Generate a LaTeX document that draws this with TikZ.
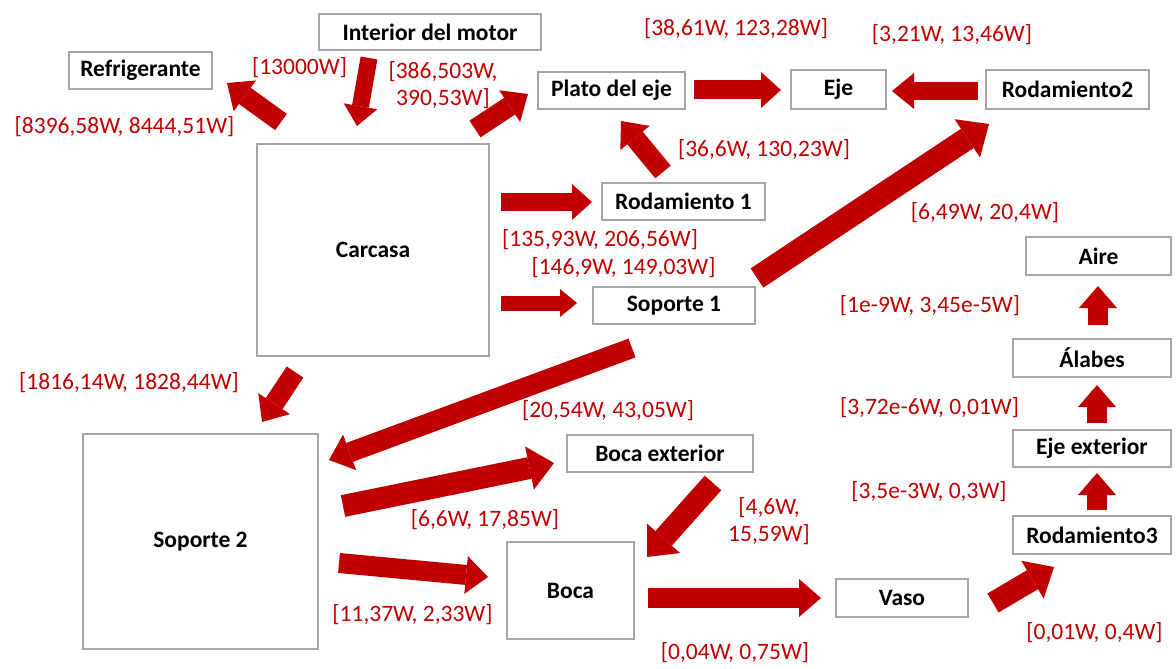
\documentclass[tikz,border=0pt]{standalone}
\usepackage{fontspec}
\setmainfont{Carlito}
\usetikzlibrary{arrows.meta}
\definecolor{flowred}{HTML}{C00000}
\definecolor{boxgray}{HTML}{A5A5A5}
\begin{document}
\begin{tikzpicture}[x=1pt,y=-1pt,
  part/.style={draw=boxgray,line width=2.5pt,fill=white,inner sep=0pt,
    font=\fontsize{23.5}{27}\selectfont\bfseries},
  heat/.style={text=flowred,inner sep=0pt,align=center,
    font=\fontsize{23.5}{27}\selectfont},
  flow/.style n args={3}{draw=flowred,line width=#1,
    -{Triangle[length=#2,width=#3,line width=0pt]}},
  flowstd/.style={flow={20pt}{22pt}{38pt}},
  flowsmall/.style={flow={15pt}{17pt}{28pt}},
  flowwide/.style={flow={22pt}{25pt}{44pt}}]
\useasboundingbox (0,0) rectangle (1176,669);

% components
\node[part,minimum width=222pt,minimum height=36pt] (intm)   at (430,32)     {Interior del motor};
\node[part,minimum width=143pt,minimum height=37pt] (refr)   at (140.5,70.5) {Refrigerante};
\node[part,minimum width=147pt,minimum height=37pt] (plato)  at (611.5,90.5) {Plato del eje};
\node[part,minimum width=95pt, minimum height=39pt] (eje)    at (838.5,89.5) {Eje};
\node[part,minimum width=163pt,minimum height=39pt] (rod2)   at (1067.5,89.5){Rodamiento2};
\node[part,minimum width=232pt,minimum height=212pt](carc)   at (373,250)    {Carcasa};
\node[part,minimum width=163pt,minimum height=37pt] (rod1)   at (683.5,201.5){Rodamiento 1};
\node[part,minimum width=162pt,minimum height=37pt] (sop1)   at (674,305.5)  {Soporte 1};
\node[part,minimum width=145pt,minimum height=38pt] (aire)   at (1098.5,256) {Aire};
\node[part,minimum width=158pt,minimum height=38pt] (alab)   at (1092,358)   {Álabes};
\node[part,minimum width=158pt,minimum height=37pt] (ejeext) at (1092,448.5) {Eje exterior};
\node[part,minimum width=158pt,minimum height=38pt] (rod3)   at (1092,535)   {Rodamiento3};
\node[part,minimum width=235pt,minimum height=215pt](sop2)   at (200.5,541.5){Soporte 2};
\node[part,minimum width=186pt,minimum height=37pt] (bocaext)at (660,453.5)   {Boca exterior};
\node[part,minimum width=127pt,minimum height=97pt] (boca)   at (570.5,590.5){Boca};
\node[part,minimum width=132pt,minimum height=38pt] (vaso)   at (902,598)    {Vaso};

% arrow ends
\coordinate (a1s) at (281,122);  \coordinate (a1e) at (227,83);
\coordinate (a2s) at (369,58);   \coordinate (a2e) at (357,126);
\coordinate (a3s) at (475,129);  \coordinate (a3e) at (528,94);
\coordinate (a4s) at (694,90);   \coordinate (a4e) at (781,90);
\coordinate (a5s) at (978,91);   \coordinate (a5e) at (892,91);
\coordinate (a6s) at (663,172);  \coordinate (a6e) at (621,121);
\coordinate (a7s) at (501,202);  \coordinate (a7e) at (592,202);
\coordinate (a8s) at (501,303);  \coordinate (a8e) at (577,303);
\coordinate (a9s) at (757,278);  \coordinate (a9e) at (989,124);
\coordinate (a10s) at (632,348); \coordinate (a10e) at (329,460);
\coordinate (a11s) at (295,372); \coordinate (a11e) at (262,422);
\coordinate (a12s) at (343,506); \coordinate (a12e) at (554,463);
\coordinate (a13s) at (339,563); \coordinate (a13e) at (488,577);
\coordinate (a14s) at (713,483); \coordinate (a14e) at (647,557);
\coordinate (a15s) at (648,598); \coordinate (a15e) at (821,598);
\coordinate (a16s) at (993,603); \coordinate (a16e) at (1054,567);
\coordinate (a17s) at (1097,510);\coordinate (a17e) at (1097,473);
\coordinate (a18s) at (1097,423);\coordinate (a18e) at (1097,385);
\coordinate (a19s) at (1098,325);\coordinate (a19e) at (1098,286);

% heat flows
\draw[flowstd]   (a1s) -- (a1e);
\draw[flow={17pt}{20pt}{34pt}] (a2s) -- (a2e);
\draw[flowstd]   (a3s) -- (a3e);
\draw[flow={19pt}{20pt}{36pt}] (a4s) -- (a4e);
\draw[flow={18pt}{22pt}{36pt}] (a5s) -- (a5e);
\draw[flowstd]   (a6s) -- (a6e);
\draw[flow={18pt}{20pt}{36pt}] (a7s) -- (a7e);
\draw[flowsmall] (a8s) -- (a8e);
\draw[flow={23pt}{26pt}{46pt}] (a9s) -- (a9e);
\draw[flowstd]   (a10s) -- (a10e);
\draw[flowstd]   (a11s) -- (a11e);
\draw[flowwide]  (a12s) -- (a12e);
\draw[flowstd]   (a13s) -- (a13e);
\draw[flowwide]  (a14s) -- (a14e);
\draw[flowstd]   (a15s) -- (a15e);
\draw[flowwide]  (a16s) -- (a16e);
\draw[flowstd]   (a17s) -- (a17e);
\draw[flowstd]   (a18s) -- (a18e);
\draw[flowstd]   (a19s) -- (a19e);

% flow values
\node[heat] (q1)  at (299.5,68)  {[13000W]};
\node[heat] (q2)  at (443,85)    {[386,503W,\\390,53W]};
\node[heat] (q3)  at (124.5,127) {[8396,58W, 8444,51W]};
\node[heat] (q4)  at (736,29)    {[38,61W, 123,28W]};
\node[heat] (q5)  at (952,35)    {[3,21W, 13,46W]};
\node[heat] (q6)  at (764,150)   {[36,6W, 130,23W]};
\node[heat] (q7)  at (985,213)   {[6,49W, 20,4W]};
\node[heat] (q8)  at (600,240)   {[135,93W, 206,56W]};
\node[heat] (q9)  at (623.5,268) {[146,9W, 149,03W]};
\node[heat] (q10) at (129,383)   {[1816,14W, 1828,44W]};
\node[heat] (q11) at (608,411)   {[20,54W, 43,05W]};
\node[heat] (q12) at (930,306)   {[1e-9W, 3,45e-5W]};
\node[heat] (q13) at (929.5,408) {[3,72e-6W, 0,01W]};
\node[heat] (q14) at (929,492)   {[3,5e-3W, 0,3W]};
\node[heat] (q15) at (769,521)   {[4,6W,\\15,59W]};
\node[heat] (q16) at (485,520)   {[6,6W, 17,85W]};
\node[heat] (q17) at (412.5,615) {[11,37W, 2,33W]};
\node[heat] (q18) at (735,653)   {[0,04W, 0,75W]};
\node[heat] (q19) at (1094.5,633){[0,01W, 0,4W]};
\end{tikzpicture}
\end{document}
